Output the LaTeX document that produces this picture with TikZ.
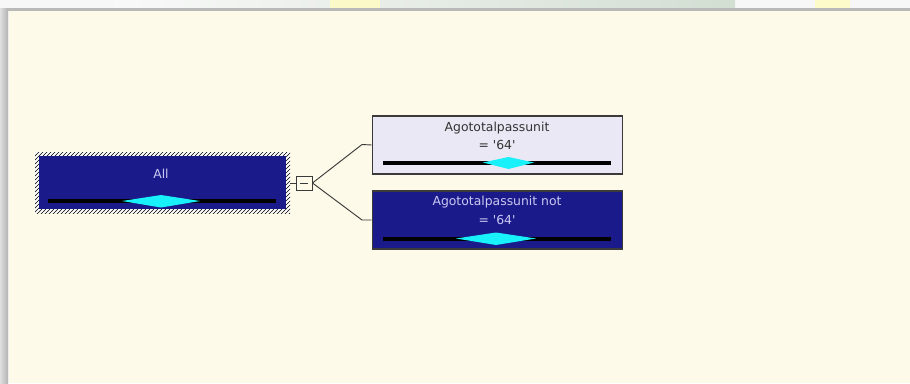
\documentclass[tikz,border=0pt]{standalone}
\usepackage{fontspec}
\setmainfont{DejaVu Sans}
\usetikzlibrary{patterns}
\definecolor{cream}{HTML}{FEFAE9}
\definecolor{navy}{HTML}{1B1A8A}
\definecolor{pale}{HTML}{E9E8F4}
\definecolor{lav}{HTML}{C9C8F2}
\definecolor{cyanD}{HTML}{18F0FA}
\definecolor{edge}{HTML}{3A3A3A}
\tikzset{
  x=0.75pt, y=-0.75pt,
  treebox/.style={draw=edge, line width=0.8pt},
  nodetext/.style={font=\fontsize{9.3}{11}\selectfont, inner sep=0pt, anchor=center},
  barline/.style={line width=3pt, black},
  diam/.style={fill=cyanD, draw=none},
  conn/.style={draw=edge, line width=0.7pt},
}
\begin{document}
\begin{tikzpicture}
\useasboundingbox (0,0) rectangle (910,383);
% screen background
\fill[white!94!gray] (0,0) rectangle (910,383);
\shade[left color=white!95!gray, right color=green!15!gray!30!white] (115,0) rectangle (735,10);
\fill[yellow!25!white, opacity=0.8] (330,0) rectangle (380,10);
\fill[yellow!25!white, opacity=0.8] (815,0) rectangle (850,10);
\shade[left color=gray!25, right color=gray!60] (0,8) rectangle (8,383);
\fill[gray!55] (6,8) rectangle (910,11);
\fill[cream] (9,11) rectangle (910,383);

% root node
\fill[white] (35,152) rectangle (290,213);
\fill[pattern=north east lines, pattern color=black] (35,152) rectangle (290,213);
\fill[navy] (39,156) rectangle (286,209);
\node[nodetext, text=lav] (rootlbl) at (161,174) {All};
\draw[barline] (48,201) -- (276,201);
\fill[diam] (122,201) -- (161,195) -- (200,201) -- (161,207.5) -- cycle;
\coordinate (root) at (290,183);

% collapse button
\node[draw=edge, fill=cream, line width=0.7pt, minimum width=12pt, minimum height=10.5pt, inner sep=0pt] (btn) at (304,183) {};
\draw[edge, line width=0.7pt] (300,183) -- (308,183);
\draw[conn] (root) -- (btn.west);

% child 1
\node[treebox, fill=pale, minimum width=188pt, minimum height=43.5pt, inner sep=0pt] (c1) at (497.5,145) {};
\node[nodetext, text=black!80] (c1a) at (497,128) {Agototalpassunit};
\node[nodetext, text=black!80] (c1b) at (497,145) {= \textquotesingle 64\textquotesingle};
\draw[barline] (383,162.5) -- (611,162.5);
\fill[diam] (483,162.5) -- (508.5,157) -- (534,162.5) -- (508.5,169) -- cycle;

% child 2
\node[treebox, fill=navy, minimum width=188pt, minimum height=43.5pt, inner sep=0pt] (c2) at (497.5,220) {};
\node[nodetext, text=lav] (c2a) at (497,202) {Agototalpassunit not};
\node[nodetext, text=lav] (c2b) at (497,220) {= \textquotesingle 64\textquotesingle};
\draw[barline] (383,238.5) -- (611,238.5);
\fill[diam] (456,238.5) -- (496,232.5) -- (536,238.5) -- (496,245) -- cycle;

% connectors
\coordinate (k1) at (362,144.5);
\coordinate (k2) at (362,220);
\draw[conn] (btn.east) -- (k1) -- (c1.west);
\draw[conn] (btn.east) -- (k2) -- (c2.west);
\end{tikzpicture}
\end{document}
